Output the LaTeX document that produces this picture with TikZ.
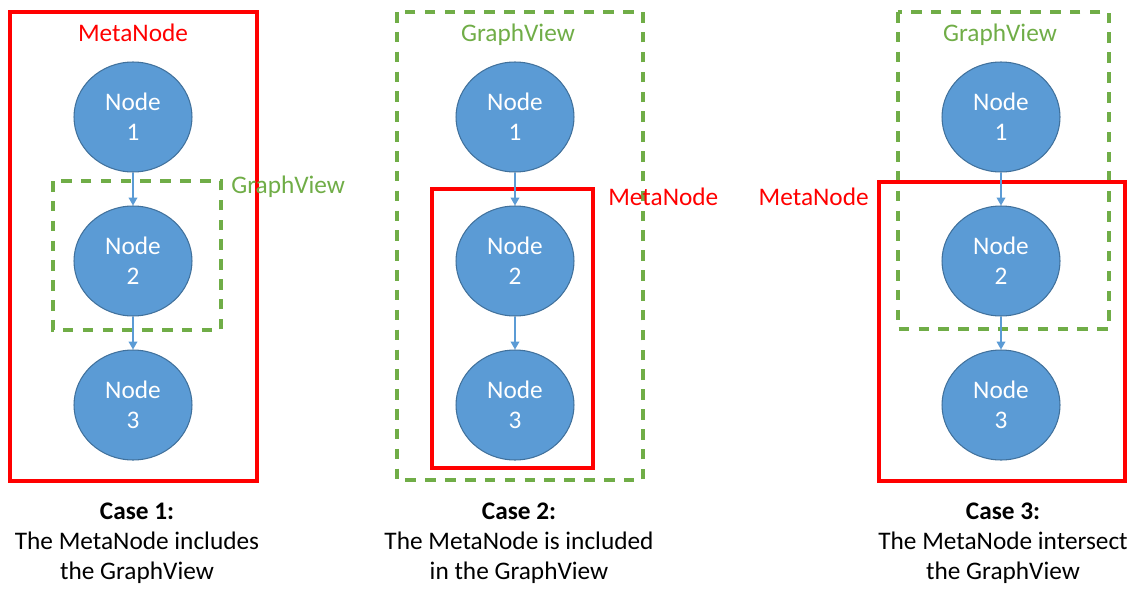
\documentclass[tikz,border=0pt]{standalone}
\usepackage{fontspec}
\setmainfont{Carlito}
\usetikzlibrary{shapes.geometric,arrows.meta}
\definecolor{nodefill}{HTML}{5B9BD5}
\definecolor{nodeedge}{HTML}{41719C}
\definecolor{metared}{HTML}{FF0000}
\definecolor{gvgreen}{HTML}{70AD47}
\tikzset{
  gnode/.style={ellipse, fill=nodefill, draw=nodeedge, line width=0.6pt,
    minimum width=2.36cm, minimum height=2.2cm, inner sep=0pt,
    text=white, align=center, font=\fontsize{14.4}{17}\selectfont},
  metabox/.style={draw=metared, line width=2pt},
  gvbox/.style={draw=gvgreen, line width=2pt, dash pattern=on 6pt off 5.3pt},
  metalabel/.style={text=metared, font=\fontsize{14.4}{17}\selectfont, inner sep=0pt},
  gvlabel/.style={text=gvgreen, font=\fontsize{14.4}{17}\selectfont, inner sep=0pt},
  caption/.style={align=center, font=\fontsize{14.4}{17}\selectfont, inner sep=0pt},
  link/.style={draw=nodefill, line width=0.6pt, -{Triangle[length=4.5pt,width=5pt]}}
}
\begin{document}
\begin{tikzpicture}[x=0.02cm,y=-0.02cm]
\useasboundingbox (0,0) rectangle (1142,595);
% ---------- Case 1 ----------
\draw[metabox] (10,12) rectangle (257,481);
\node[metalabel] (ml1) at (133,33) {MetaNode};
\draw[gvbox] (53,181) rectangle (221,330);
\node[gvlabel, anchor=west] (gl1) at (231,187) {GraphView};
\node[gnode] (a1) at (133,117) {Node\\1};
\node[gnode] (a2) at (133,261) {Node\\2};
\node[gnode] (a3) at (133,405) {Node\\3};
\draw[link] (a1) -- (a2);
\draw[link] (a2) -- (a3);
\node[caption] (c1) at (137,543) {\textbf{Case 1:}\\The MetaNode includes\\the GraphView};
% ---------- Case 2 ----------
\draw[gvbox] (397,12) rectangle (643,480);
\node[gvlabel] (gl2) at (518,35) {GraphView};
\draw[metabox] (432,189) rectangle (593,468);
\node[metalabel, anchor=west] (ml2) at (608,197) {MetaNode};
\node[gnode] (b1) at (515,117) {Node\\1};
\node[gnode] (b2) at (515,261) {Node\\2};
\node[gnode] (b3) at (515,405) {Node\\3};
\draw[link] (b1) -- (b2);
\draw[link] (b2) -- (b3);
\node[caption] (c2) at (519,543) {\textbf{Case 2:}\\The MetaNode is included\\in the GraphView};
% ---------- Case 3 ----------
\draw[gvbox] (898,12) rectangle (1109,329);
\node[gvlabel] (gl3) at (1000,35) {GraphView};
\draw[metabox] (879,182) rectangle (1125,481);
\node[metalabel, anchor=east] (ml3) at (869,197) {MetaNode};
\node[gnode] (d1) at (1001,117) {Node\\1};
\node[gnode] (d2) at (1001,261) {Node\\2};
\node[gnode] (d3) at (1001,405) {Node\\3};
\draw[link] (d1) -- (d2);
\draw[link] (d2) -- (d3);
\node[caption] (c3) at (1003,543) {\textbf{Case 3:}\\The MetaNode intersect\\the GraphView};
\end{tikzpicture}
\end{document}
